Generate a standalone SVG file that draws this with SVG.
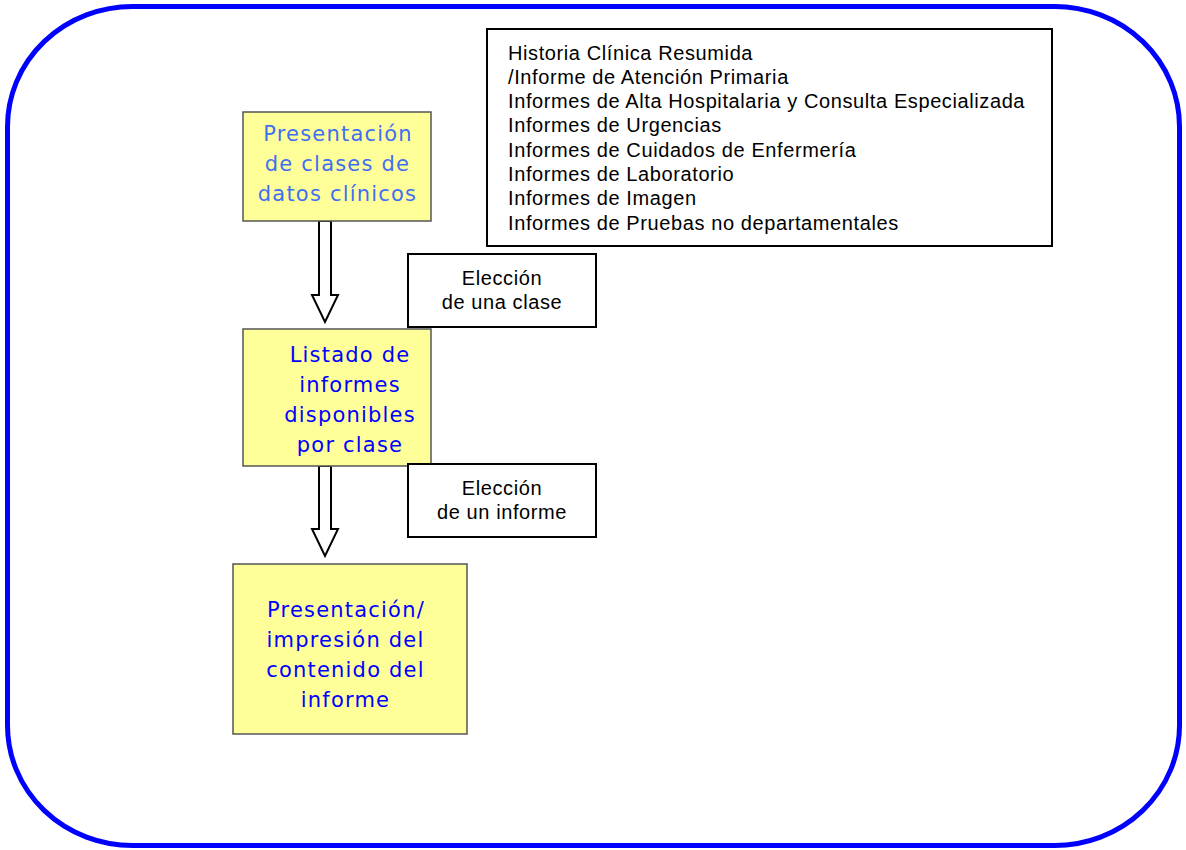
<svg xmlns="http://www.w3.org/2000/svg" width="1186" height="850" viewBox="0 0 1186 850">
  <style>
    .frame { fill: none; stroke: #0000FF; stroke-width: 5; }
    .step { fill: #FFFF99; stroke: #555555; stroke-width: 1.5; }
    .note { fill: #FFFFFF; stroke: #000000; stroke-width: 2; }
    .arrow { fill: #FFFFFF; stroke: #000000; stroke-width: 2; stroke-linejoin: miter; }
    .stepText { font-family: "DejaVu Sans", Verdana, sans-serif; font-size: 21px; text-anchor: middle; fill: #0000FF; letter-spacing: 1.2px; }
    .stepText.light { fill: #3F6FF2; }
    .noteText { font-family: "Liberation Sans", Arial, sans-serif; font-size: 20px; fill: #000000; letter-spacing: 0.6px; }
    .mid { text-anchor: middle; }
  </style>

  <!-- outer frame -->
  <rect class="frame" x="7.5" y="6.5" width="1172" height="839" rx="125" ry="120"/>

  <!-- connectors: hollow block arrows -->
  <g id="connectors">
    <path class="arrow" d="M319,221 L331,221 L331,295 L338,295 L325,322 L312,295 L319,295 Z"/>
    <path class="arrow" d="M319,466 L331,466 L331,529 L338,529 L325,556 L312,529 L319,529 Z"/>
  </g>

  <g id="node-clases">
    <rect class="step" x="243" y="112" width="188" height="109"/>
    <text class="stepText light" x="338" y="141">Presentación</text>
    <text class="stepText light" x="337.5" y="171">de clases de</text>
    <text class="stepText light" x="337.5" y="201">datos clínicos</text>
  </g>

  <g id="node-listado">
    <rect class="step" x="243" y="329" width="188" height="137"/>
    <text class="stepText" x="350" y="362">Listado de</text>
    <text class="stepText" x="350" y="392">informes</text>
    <text class="stepText" x="350" y="422">disponibles</text>
    <text class="stepText" x="350" y="452">por clase</text>
  </g>

  <g id="node-presentacion">
    <rect class="step" x="233" y="564" width="234" height="170"/>
    <text class="stepText" x="346" y="617">Presentación/</text>
    <text class="stepText" x="345.5" y="647">impresión del</text>
    <text class="stepText" x="345.5" y="677">contenido del</text>
    <text class="stepText" x="345.5" y="707">informe</text>
  </g>

  <g id="node-eleccion-clase">
    <rect class="note" x="408" y="254" width="188" height="73"/>
    <text class="noteText mid" x="502" y="285">Elección</text>
    <text class="noteText mid" x="502" y="309">de una clase</text>
  </g>

  <g id="node-eleccion-informe">
    <rect class="note" x="408" y="464" width="188" height="73"/>
    <text class="noteText mid" x="502" y="495">Elección</text>
    <text class="noteText mid" x="502" y="519">de un informe</text>
  </g>

  <g id="node-clases-lista">
    <rect class="note" x="487" y="29" width="565" height="217"/>
    <text class="noteText" x="508" y="60">Historia Clínica Resumida</text>
    <text class="noteText" x="508" y="84">/Informe de Atención Primaria</text>
    <text class="noteText" x="508" y="108">Informes de Alta Hospitalaria y Consulta Especializada</text>
    <text class="noteText" x="508" y="132">Informes de Urgencias</text>
    <text class="noteText" x="508" y="157">Informes de Cuidados de Enfermería</text>
    <text class="noteText" x="508" y="181">Informes de Laboratorio</text>
    <text class="noteText" x="508" y="205">Informes de Imagen</text>
    <text class="noteText" x="508" y="230">Informes de Pruebas no departamentales</text>
  </g>
</svg>
